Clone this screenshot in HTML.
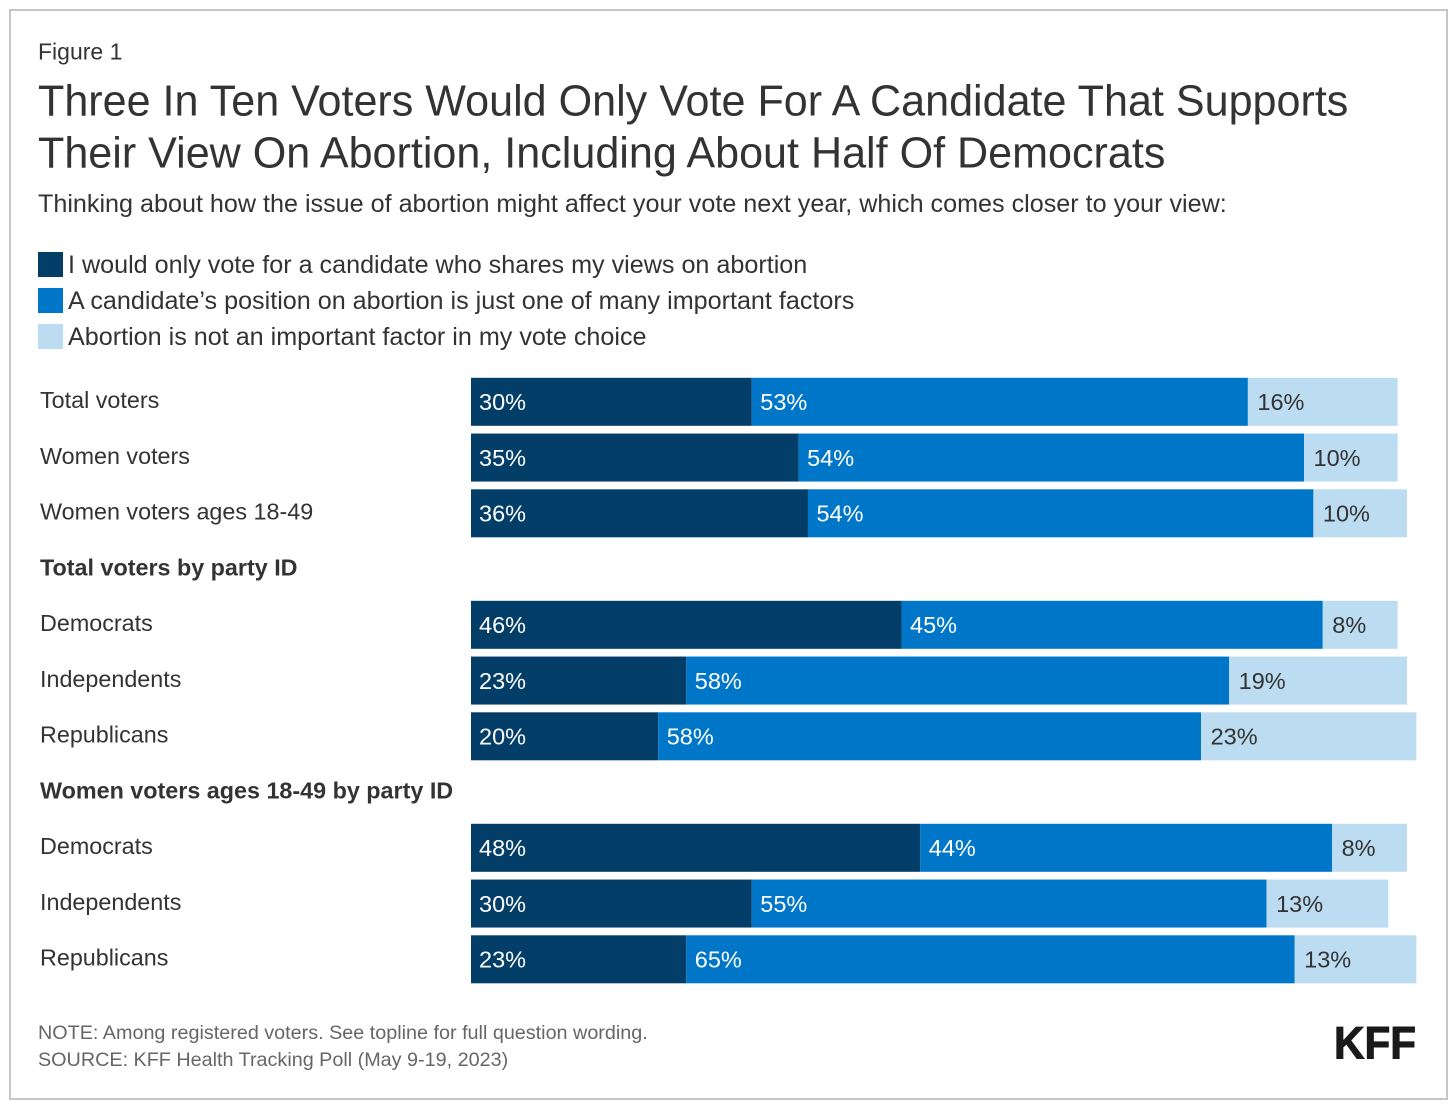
<!DOCTYPE html>
<html lang="en">
<head>
<meta charset="utf-8">
<title>Three In Ten Voters Would Only Vote For A Candidate That Supports Their View On Abortion</title>
<style>
html,body{margin:0;padding:0;background:#fff;}
svg{display:block;font-family:"Liberation Sans",Arial,sans-serif;}
</style>
</head>
<body>
<svg id="chart" width="1456" height="1109" viewBox="0 0 1456 1109" xmlns="http://www.w3.org/2000/svg">
  <rect x="0" y="0" width="1456" height="1109" fill="#ffffff"/>
  <rect x="10" y="10" width="1437" height="1089" fill="none" stroke="#c6c6c6" stroke-width="2"/>
  <text x="38" y="59.5" font-size="23" fill="#333333">Figure 1</text>
  <text x="38" y="115.5" font-size="43.1" fill="#333333">Three In Ten Voters Would Only Vote For A Candidate That Supports</text>
  <text x="38" y="167.5" font-size="43.1" fill="#333333">Their View On Abortion, Including About Half Of Democrats</text>
  <text x="38" y="212" font-size="25.15" fill="#333333">Thinking about how the issue of abortion might affect your vote next year, which comes closer to your view:</text>
  <g id="legend"></g>
  <g id="labels"></g>
  <g id="bars"></g>
  <text x="38" y="1039" font-size="19.78" fill="#666666">NOTE: Among registered voters. See topline for full question wording.</text>
  <text x="38" y="1066" font-size="19.78" fill="#666666">SOURCE: KFF Health Tracking Poll (May 9-19, 2023)</text>
  <text x="1334" y="1058.5" font-size="45" font-weight="700" fill="#1a1a1a" stroke="#1a1a1a" stroke-width="1" textLength="82" lengthAdjust="spacingAndGlyphs">KFF</text>
</svg>
<script>
var seriesNames = ["I would only vote for a candidate who shares my views on abortion", "A candidate’s position on abortion is just one of many important factors", "Abortion is not an important factor in my vote choice"];
var categories = ["Total voters", "Women voters", "Women voters ages 18-49", "Total voters by party ID", "Democrats", "Independents", "Republicans", "Women voters ages 18-49 by party ID", "Democrats", "Independents", "Republicans"];
var onlyShares = [30, 35, 36, null, 46, 23, 20, null, 48, 30, 23];
var oneOfMany = [53, 54, 54, null, 45, 58, 58, null, 44, 55, 65];
var notImportant = [16, 10, 10, null, 8, 19, 23, null, 8, 13, 13];

var NS = "http://www.w3.org/2000/svg";
var colors = ["#023e67", "#0076c9", "#bcdcf1"];
var textColors = ["#ffffff", "#ffffff", "#333333"];
var labelPad = [8, 8.5, 9.5];
var series = [onlyShares, oneOfMany, notImportant];
var segmentNames = ["only-shares", "one-of-many", "not-important"];

function xScale(v) { return 471 + v * 9.36; }
function rowY(i) { return 377.8 + i * 55.75; }

function make(tag, attrs, parent, text) {
  var el = document.createElementNS(NS, tag);
  for (var k in attrs) { el.setAttribute(k, attrs[k]); }
  if (text !== undefined) { el.textContent = text; }
  parent.appendChild(el);
  return el;
}

var legend = document.getElementById("legend");
seriesNames.forEach(function (name, i) {
  var y = 252 + i * 36;
  var swatch = make("rect", { x: 38, y: y, width: 25, height: 25, fill: colors[i] }, legend);
  
  
  var label = make("text", { x: 68, y: y + 21, "font-size": 25.15, fill: "#333333" }, legend, name);
  
  
});

var labels = document.getElementById("labels");
var bars = document.getElementById("bars");
categories.forEach(function (cat, i) {
  var isHeader = onlyShares[i] === null;
  var label = make("text", {
    x: 40,
    y: rowY(i) + 30.2,
    "font-size": 23.34,
    "font-weight": isHeader ? 700 : 400,
    fill: "#333333"
  }, labels, cat);
  
  
  if (isHeader) { return; }
  var cumulative = 0;
  series.forEach(function (values, s) {
    var x0 = xScale(cumulative);
    var x1 = xScale(cumulative + values[i]);
    var seg = make("rect", { x: x0, y: rowY(i), width: x1 - x0, height: 48, fill: colors[s] }, bars);
    
    
    var val = make("text", {
      x: x0 + labelPad[s],
      y: rowY(i) + 32.2,
      "font-size": 23.5,
      fill: textColors[s]
    }, bars, values[i] + "%");
    
    
    cumulative += values[i];
  });
});
</script>
</body>
</html>
